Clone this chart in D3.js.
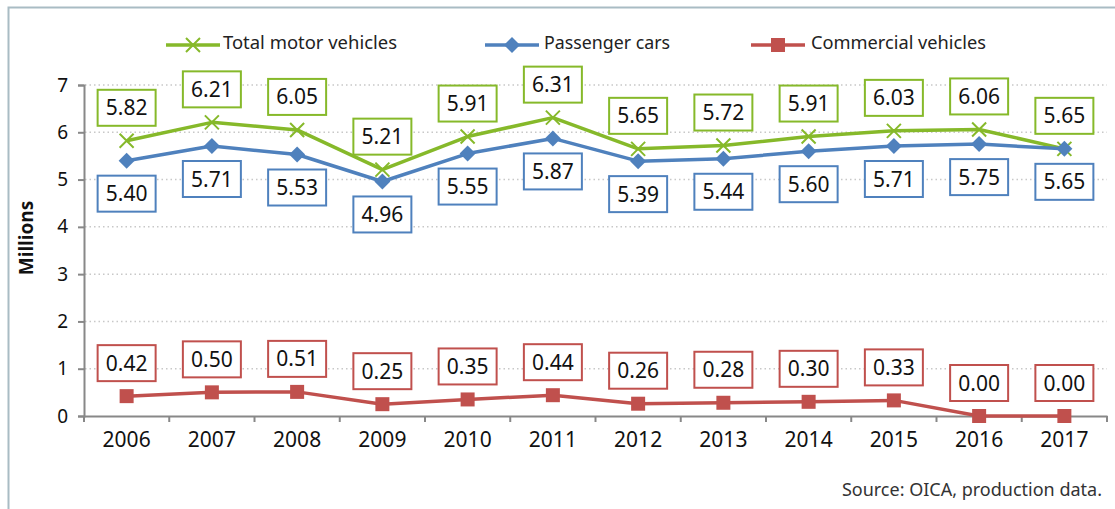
<!DOCTYPE html>
<html>
<head>
<meta charset="utf-8">
<script src="https://cdn.jsdelivr.net/npm/d3@7"></script>
<style>
  body { margin: 0; background: #fff; }
  svg { display: block; font-family: "Noto Sans", "Open Sans", sans-serif; }
</style>
</head>
<body>
<svg width="1115" height="509"></svg>
<script>
var years = ["2006","2007","2008","2009","2010","2011","2012","2013","2014","2015","2016","2017"];
var totalVehicles = [5.82, 6.21, 6.05, 5.21, 5.91, 6.31, 5.65, 5.72, 5.91, 6.03, 6.06, 5.65];
var passengerCars = [5.40, 5.71, 5.53, 4.96, 5.55, 5.87, 5.39, 5.44, 5.60, 5.71, 5.75, 5.65];
var commercialVehicles = [0.42, 0.50, 0.51, 0.25, 0.35, 0.44, 0.26, 0.28, 0.30, 0.33, 0.00, 0.00];
var yTicks = [0, 1, 2, 3, 4, 5, 6, 7];

var svg = d3.select("svg");

// outer frame (left + top only)
svg.append("path")
  .attr("d", "M8.5,509 L8.5,7.5 L1115,7.5")
  .attr("fill", "none")
  .attr("stroke", "#a9bcc4")
  .attr("stroke-width", 2);

var x = d3.scaleBand().domain(years).range([84, 1107]);
var y = d3.scaleLinear().domain([0, 7]).range([416, 85]);

// gridlines
svg.append("g")
  .selectAll("line")
  .data(yTicks.filter(d => d > 0))
  .join("line")
  .attr("x1", 85).attr("x2", 1107)
  .attr("y1", d => y(d)).attr("y2", d => y(d))
  .attr("stroke", "#c8c8c8")
  .attr("stroke-width", 1.5)
  .attr("stroke-dasharray", "1.5,3");

// y axis
var yAxis = svg.append("g")
  .attr("transform", "translate(84,0)")
  .call(d3.axisLeft(y).tickValues(yTicks).tickFormat(d3.format("d")).tickSize(6).tickPadding(10));
yAxis.select(".domain").attr("stroke", "#888").attr("stroke-width", 2);
yAxis.selectAll(".tick line").attr("stroke", "#888").attr("stroke-width", 2);
yAxis.selectAll("text")
  .attr("font-family", "Noto Sans")
  .attr("font-size", 19)
  .attr("fill", "#111");

// x axis
var xAxis = svg.append("g")
  .attr("transform", "translate(0,416)")
  .call(d3.axisBottom(x).tickSize(0).tickPadding(16));
xAxis.select(".domain").attr("stroke", "#888").attr("stroke-width", 2);
xAxis.selectAll("text")
  .attr("font-family", "Noto Sans")
  .attr("font-size", 21)
  .attr("fill", "#111");
xAxis.selectAll(".bound")
  .data(d3.range(years.length + 1))
  .join("line")
  .attr("x1", i => 84 + i * x.step()).attr("x2", i => 84 + i * x.step())
  .attr("y1", 0).attr("y2", 6)
  .attr("stroke", "#888").attr("stroke-width", 2);

// Millions label
svg.append("text")
  .attr("transform", "translate(33,238) rotate(-90)")
  .attr("text-anchor", "middle")
  .attr("font-size", 19)
  .attr("font-weight", "bold")
  .attr("fill", "#111")
  .text("Millions");

var series = [
  {name: "Total motor vehicles", values: totalVehicles, color: "#86b92a", marker: "x", labelOffset: -33},
  {name: "Passenger cars", values: passengerCars, color: "#4f81bd", marker: "diamond", labelOffset: 33},
  {name: "Commercial vehicles", values: commercialVehicles, color: "#c0504d", marker: "square", labelOffset: -33}
];

var line = d3.line()
  .x((d, i) => x(years[i]) + x.bandwidth() / 2)
  .y(d => y(d));

function drawMarker(g, type, color) {
  if (type === "x") {
    g.append("path")
      .attr("d", "M-7,-7 L7,7 M-7,7 L7,-7")
      .attr("stroke", color).attr("stroke-width", 2).attr("fill", "none");
  } else if (type === "diamond") {
    g.append("path")
      .attr("d", "M0,-8 L8,0 L0,8 L-8,0 Z")
      .attr("fill", color);
  } else {
    g.append("rect")
      .attr("x", -7).attr("y", -7).attr("width", 14).attr("height", 14)
      .attr("fill", color);
  }
}

series.forEach(function(s) {
  svg.append("path")
    .datum(s.values)
    .attr("fill", "none")
    .attr("stroke", s.color)
    .attr("stroke-width", 3.5)
    .attr("stroke-linejoin", "round")
    .attr("d", line);

  s.values.forEach(function(v, i) {
    var g = svg.append("g")
      .attr("transform", "translate(" + (x(years[i]) + x.bandwidth() / 2) + "," + y(v) + ")");
    drawMarker(g, s.marker, s.color);
  });
});

// data labels
series.forEach(function(s) {
  s.values.forEach(function(v, i) {
    var cx = x(years[i]) + x.bandwidth() / 2;
    var cy = y(v) + s.labelOffset;
    var g = svg.append("g").attr("transform", "translate(" + cx + "," + cy + ")");
    g.append("rect")
      .attr("x", -29).attr("y", -18).attr("width", 58).attr("height", 36)
      .attr("fill", "#fff")
      .attr("stroke", s.color)
      .attr("stroke-width", 2);
    g.append("text")
      .attr("text-anchor", "middle")
      .attr("dy", "0.36em")
      .attr("font-size", 21)
      .attr("fill", "#111")
      .text(v.toFixed(2));
  });
});

// legend
var legendPos = [
  {lx: 166, tx: 223, w: 174},
  {lx: 485, tx: 544, w: 126},
  {lx: 751, tx: 811, w: 175}
];
series.forEach(function(s, i) {
  var p = legendPos[i];
  var g = svg.append("g");
  g.append("line")
    .attr("x1", p.lx).attr("x2", p.lx + 54)
    .attr("y1", 45).attr("y2", 45)
    .attr("stroke", s.color).attr("stroke-width", 3.5);
  drawMarker(g.append("g").attr("transform", "translate(" + (p.lx + 27) + ",45)"), s.marker, s.color);
  g.append("text")
    .attr("x", p.tx).attr("y", 43)
    .attr("dy", "0.35em")
    .attr("font-size", 18)
    .attr("fill", "#222")
    .attr("textLength", p.w)
    .attr("lengthAdjust", "spacingAndGlyphs")
    .text(s.name);
});

// source note
svg.append("text")
  .attr("x", 1102).attr("y", 490)
  .attr("dy", "0.35em")
  .attr("text-anchor", "end")
  .attr("font-size", 18)
  .attr("fill", "#333")
  .text("Source: OICA, production data.");
</script>
</body>
</html>
